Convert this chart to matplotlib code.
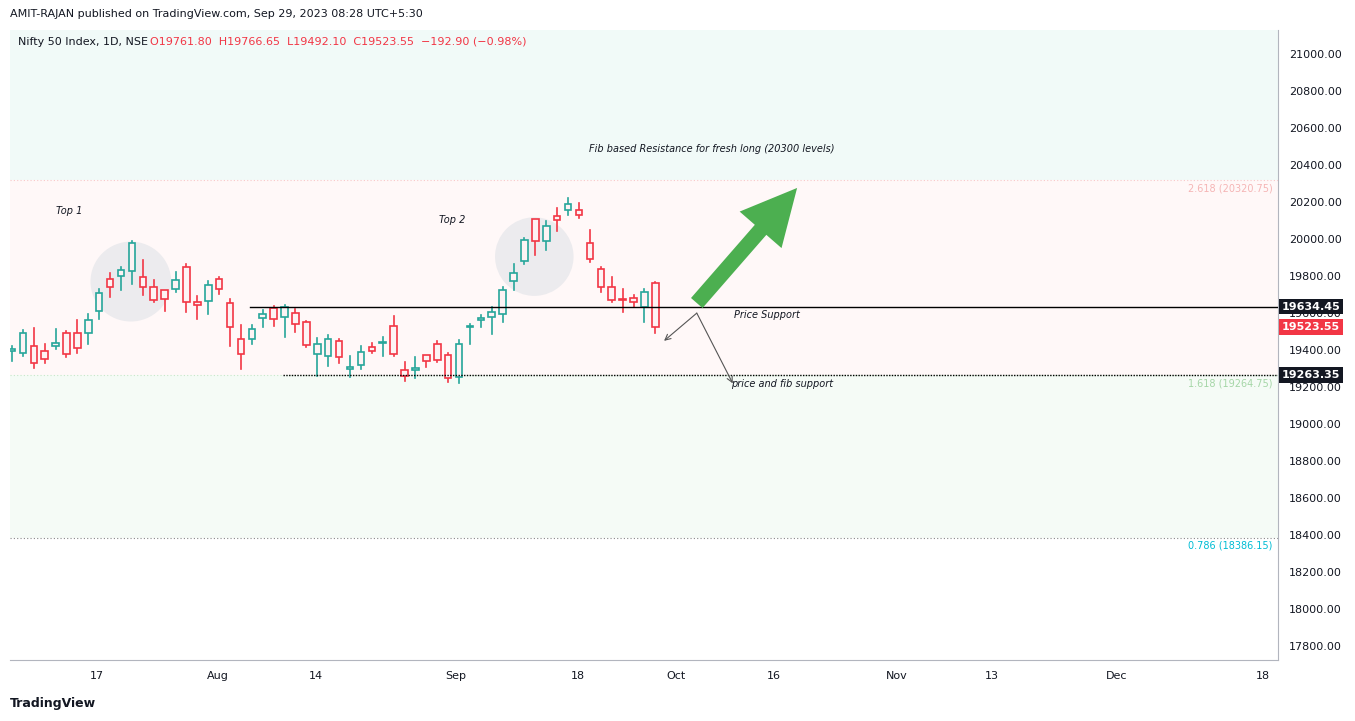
import matplotlib
matplotlib.use("Agg")
import matplotlib.pyplot as plt
from matplotlib.patches import Rectangle, Ellipse
import numpy as np

opens = [19397,19383,19423,19394,19421,19491,19491,19491,19610,19783,19799,19826,19797,19743,19723,19729,19847,19658,19664,19783,
         19653,19459,19459,19572,19628,19577,19599,19550,19378,19367,19448,19297,19318,19415,19437,19531,19291,19291,19372,19433,
         19372,19253,19522,19563,19577,19594,19772,19883,20107,19988,20123,20155,20155,19977,19837,19739,19675,19680,19631,19762]
closes = [19400,19491,19329,19351,19437,19378,19410,19561,19707,19743,19831,19979,19739,19669,19675,19779,19657,19642,19750,19729,
          19523,19378,19513,19594,19567,19631,19540,19426,19433,19459,19361,19307,19388,19394,19441,19381,19259,19302,19340,19345,
          19246,19431,19527,19574,19608,19723,19815,19993,19988,20069,20101,20188,20128,19894,19739,19671,19671,19658,19712,19524]
highs = [19419,19509,19520,19433,19514,19500,19563,19595,19730,19815,19847,19990,19887,19779,19723,19820,19865,19693,19774,19795,
         19676,19536,19536,19617,19639,19642,19621,19558,19466,19480,19460,19369,19423,19439,19471,19586,19336,19363,19372,19448,
         19385,19455,19540,19588,19631,19738,19865,20006,20107,20098,20168,20222,20195,20049,19847,19795,19730,19698,19730,19767]
lows = [19338,19370,19300,19327,19408,19360,19385,19435,19565,19689,19725,19759,19698,19657,19613,19716,19603,19565,19597,19705,
        19424,19295,19435,19527,19532,19468,19495,19415,19259,19316,19329,19253,19295,19383,19365,19370,19232,19246,19307,19333,
        19226,19223,19430,19527,19489,19549,19727,19867,19916,19943,20044,20132,20116,19878,19711,19657,19603,19635,19554,19492]

tick_pos = [7.8,18.9,27.9,40.7,51.9,60.9,69.9,81.1,89.9,101.3,114.7]
tick_lbl = ["17","Aug","14","Sep","18","Oct","16","Nov","13","Dec","18"]
yticks = list(range(17800,21001,200))

support = 19634.45
lower_support = 19263.35
last_close = 19523.55
fib_2618 = 20320.75
fib_1618 = 19264.75
fib_0786 = 18386.15

GREEN = "#26a69a"; RED = "#f23645"
fig = plt.figure(figsize=(13.55,7.21), dpi=100)
ax = fig.add_axes([10/1355, 61/721, 1268/1355, 630/721])
X0, X1 = -0.18, 116.1
Y0, Y1 = 17724, 21130
ax.set_xlim(X0, X1); ax.set_ylim(Y0, Y1)

ax.axhspan(fib_2618, Y1, color="#f1faf8", zorder=0, lw=0)
ax.axhspan(fib_1618, fib_2618, color="#fff8f8", zorder=0, lw=0)
ax.axhspan(fib_0786, fib_1618, color="#f5fbf6", zorder=0, lw=0)
ax.axhline(fib_2618, color="#f8c8c8", lw=0.8, ls=(0,(1,2)), zorder=1)
ax.axhline(fib_1618, color="#c8e6c9", lw=0.8, ls=(0,(1,2)), zorder=1)
ax.axhline(fib_0786, color="#888888", lw=0.8, ls=(0,(1,2)), zorder=1)

ax.add_patch(Ellipse((10.9, 19770), 7.4, 432, color="#ecebee", zorder=1, lw=0))
ax.add_patch(Ellipse((47.9, 19905), 7.2, 425, color="#ecebee", zorder=1, lw=0))

for i,(o,c,h,l) in enumerate(zip(opens,closes,highs,lows)):
    col = GREEN if c >= o else RED
    ax.plot([i,i],[l,min(o,c)], color=col, lw=1.2, zorder=3)
    ax.plot([i,i],[max(o,c),h], color=col, lw=1.2, zorder=3)
    b = max(abs(c-o), 6)
    ax.add_patch(Rectangle((i-0.3, min(o,c)), 0.6, b, facecolor="#fdf3f4", edgecolor=col, lw=1.2, zorder=4))

ax.plot([21.8, X1], [support, support], color="black", lw=1, zorder=5)
ax.plot([24.9, X1], [lower_support, lower_support], color="black", lw=1, ls=(0,(1,1)), zorder=5)

ax.annotate("", xy=(72.0, 20276), xytext=(62.8, 19654),
            arrowprops=dict(arrowstyle="simple,head_width=2.0,head_length=2.0,tail_width=0.55",
                            mutation_scale=20, color="#4caf50", lw=0, shrinkA=0, shrinkB=0), zorder=6)
for dx, dy in [(-3.0,-150),(3.3,-380)]:
    ax.annotate("", xy=(62.8+dx, support-35+dy), xytext=(62.8, support-35),
                arrowprops=dict(arrowstyle="->", color="#555555", lw=0.8, shrinkA=0, shrinkB=0), zorder=6)

it = dict(fontsize=7, style="italic", color="#131722", va="center")
ax.text(4.0, 20151, "Top 1", **it)
ax.text(39.2, 20103, "Top 2", **it)
ax.text(52.9, 20486, "Fib based Resistance for fresh long (20300 levels)", **it)
ax.text(66.2, 19590, "Price Support", **it)
ax.text(65.9, 19217, "price and fib support", **it)
ax.text(115.6, fib_2618-45, "2.618 (20320.75)", fontsize=7, color="#f5b5b5", ha="right", va="center")
ax.text(115.6, fib_1618-45, "1.618 (19264.75)", fontsize=7, color="#a5d6a7", ha="right", va="center")
ax.text(115.6, fib_0786-45, "0.786 (18386.15)", fontsize=7, color="#00bcd4", ha="right", va="center")

ax.set_xticks(tick_pos); ax.set_xticklabels(tick_lbl)
ax.yaxis.tick_right()
ax.set_yticks(yticks); ax.set_yticklabels([f"{v:.2f}" for v in yticks])
ax.tick_params(length=0, labelsize=8, colors="#131722", pad=8)
for s in ["top","left"]: ax.spines[s].set_visible(False)
for s in ["right","bottom"]: ax.spines[s].set_color("#b2b5be")

for val, bg in [(support,"#131722"),(last_close,"#f23645"),(lower_support,"#131722")]:
    ax.text(1.003, (val-Y0)/(Y1-Y0), f"{val:.2f}", transform=ax.transAxes, fontsize=8,
            fontweight="bold", color="white", va="center", ha="left",
            bbox=dict(boxstyle="square,pad=0.25", fc=bg, ec="none"), zorder=10)

fig.text(10/1355, 1-14/721, "AMIT-RAJAN published on TradingView.com, Sep 29, 2023 08:28 UTC+5:30",
         fontsize=8, color="#131722", va="center")
fig.text(18/1355, 1-42/721, "Nifty 50 Index, 1D, NSE", fontsize=8, color="#131722", va="center")
fig.text(150/1355, 1-42/721, "O19761.80  H19766.65  L19492.10  C19523.55  −192.90 (−0.98%)",
         fontsize=8, color="#f23645", va="center")
fig.text(10/1355, 1-703/721, "TradingView", fontsize=9, color="#131722", va="center", fontweight="bold")
fig.savefig("out.png", dpi=100, facecolor="white")
